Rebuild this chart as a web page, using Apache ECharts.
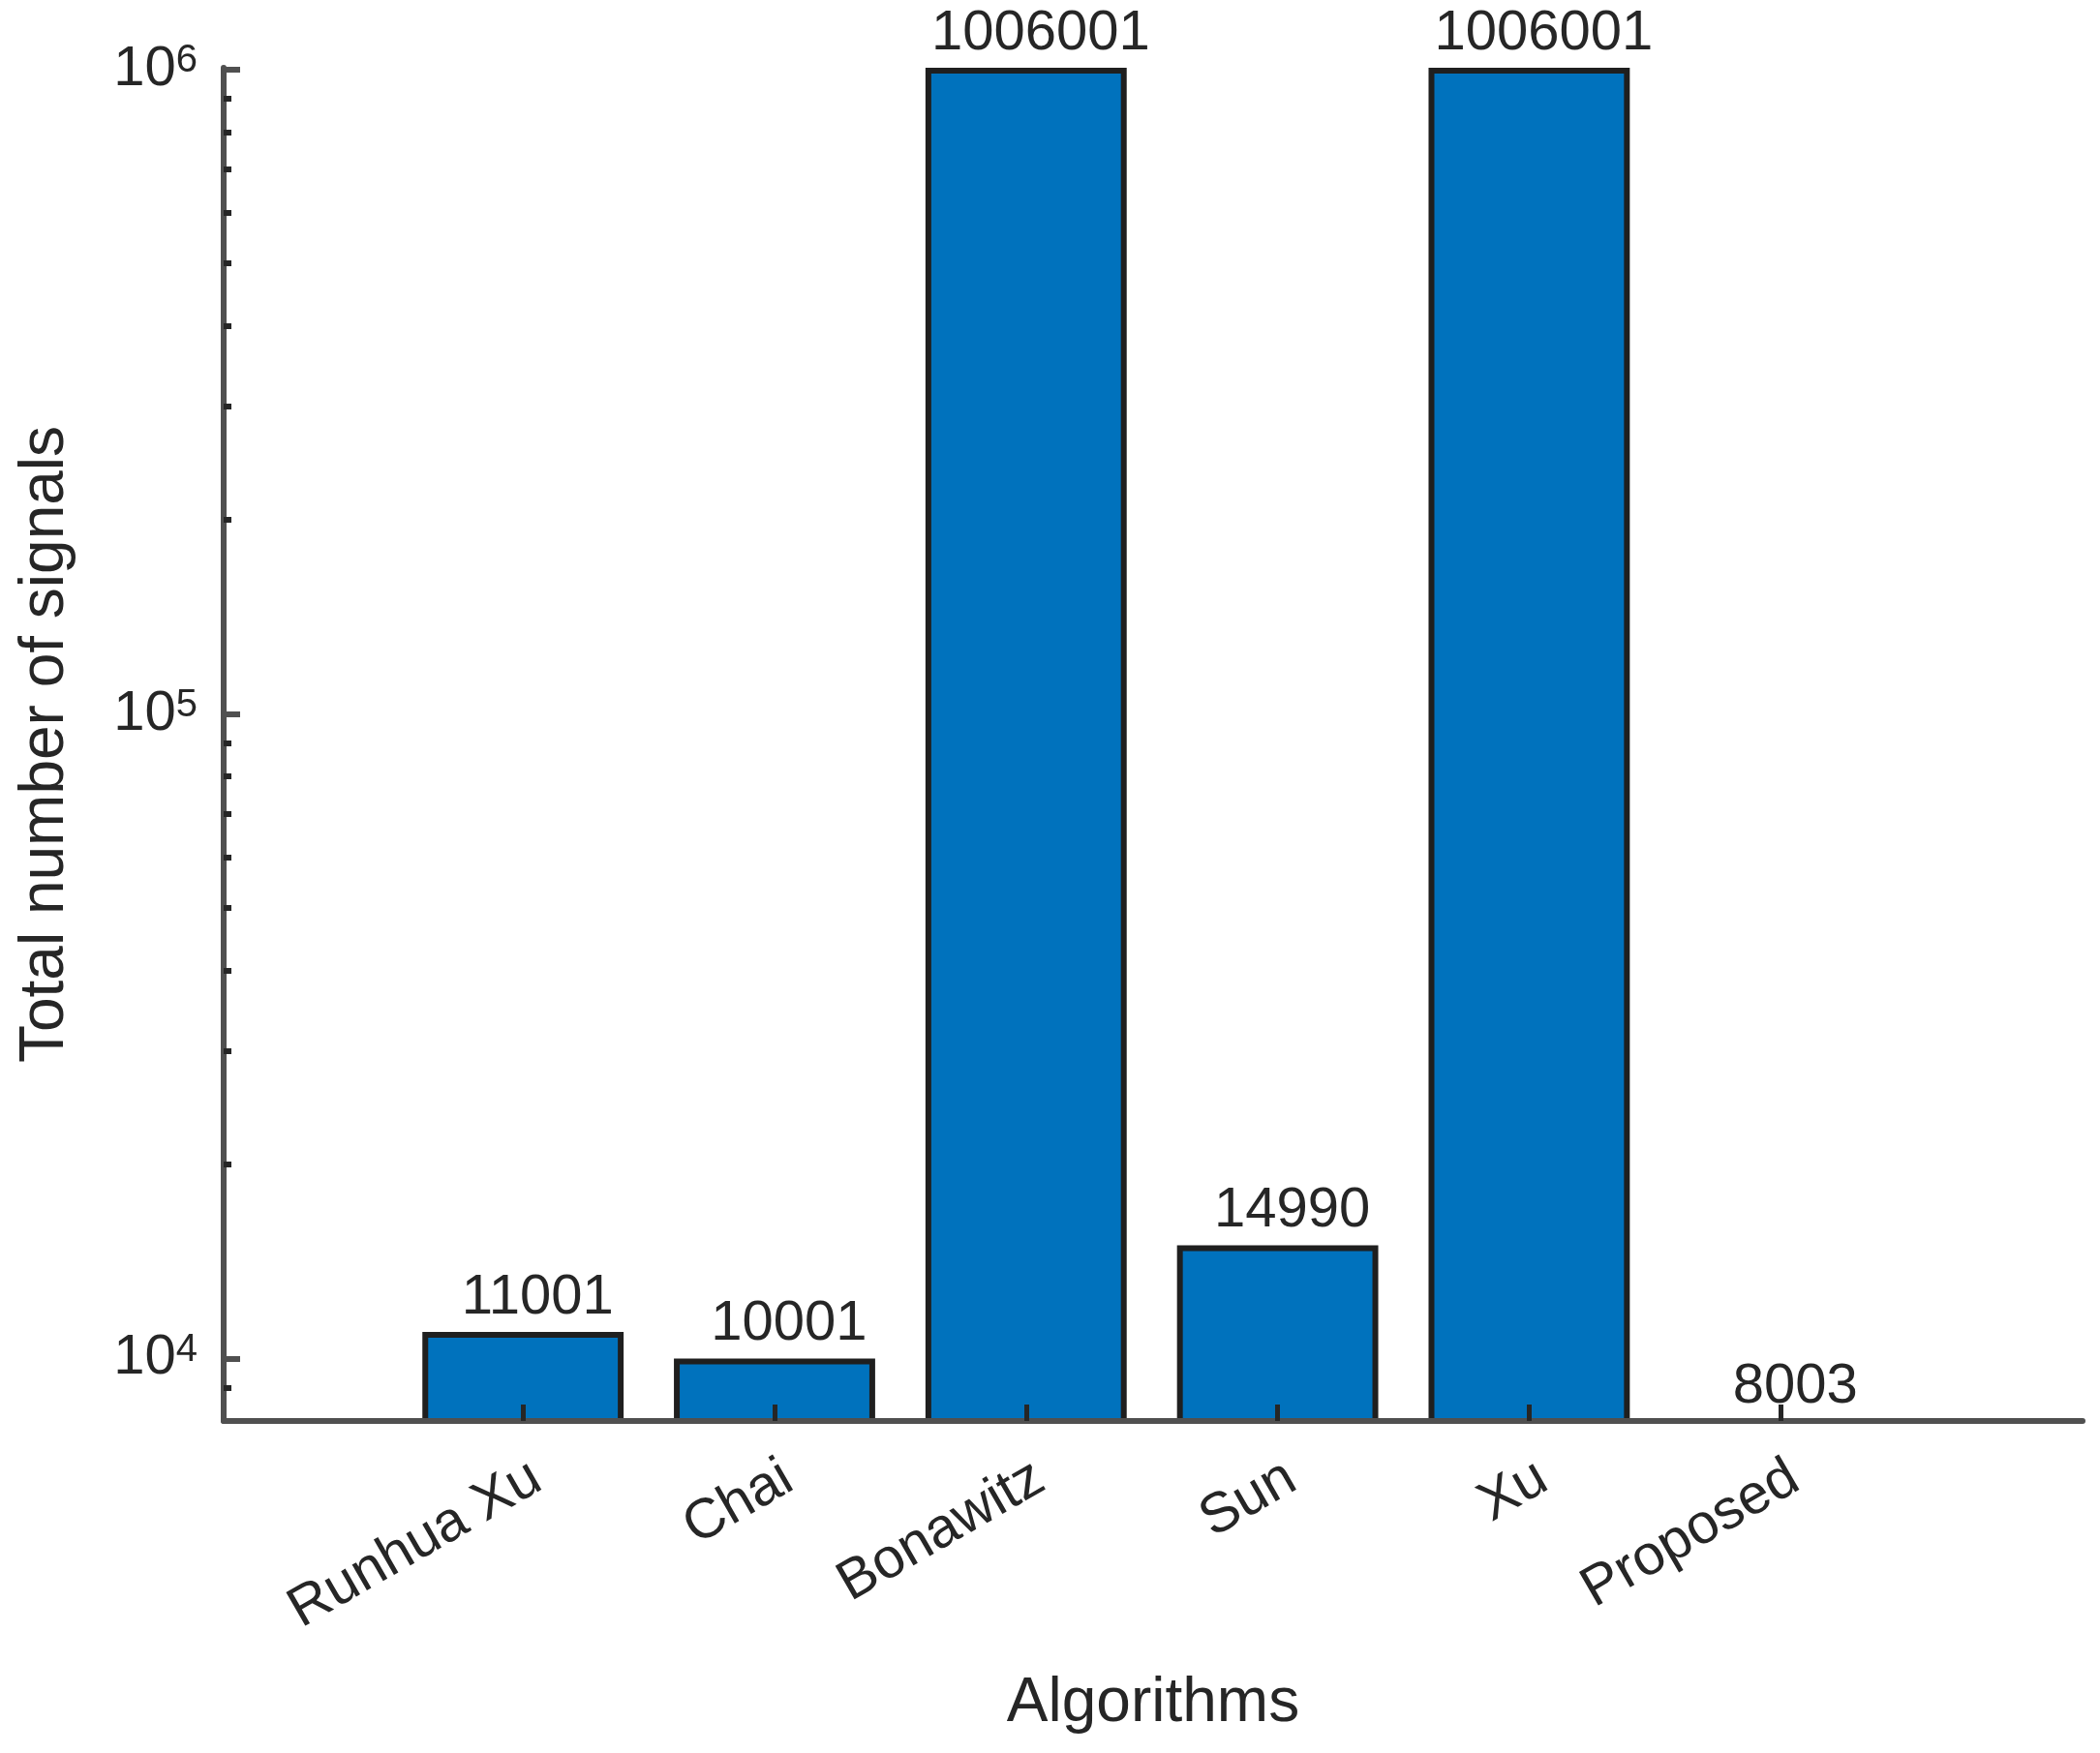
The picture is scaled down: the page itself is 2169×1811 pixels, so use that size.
<!DOCTYPE html>
<html>
<head>
<meta charset="utf-8">
<script src="https://cdn.jsdelivr.net/npm/echarts@6/dist/echarts.min.js"></script>
<style>
  html, body { margin: 0; padding: 0; background: #ffffff; }
  #chart { width: 2169px; height: 1811px; }
</style>
</head>
<body>
<div id="chart"></div>
<script>
// ---- data ----
const categories = ['Runhua Xu', 'Chai', 'Bonawitz', 'Sun', 'Xu', 'Proposed'];
const signals = [11001, 10001, 1006001, 14990, 1006001, 8003];
const yMajorTicks = [10000, 100000, 1000000];
const yMinorTicks = [9000, 20000, 30000, 40000, 50000, 60000, 70000, 80000, 90000,
                     200000, 300000, 400000, 500000, 600000, 700000, 800000, 900000];
const yMin = 8000;
const yMax = 1006001;
const xMin = -0.19;
const xMax = 7.2;

// ---- styling ----
const FONT = "'Liberation Sans', Arial, Helvetica, sans-serif";
const AXIS_COLOR = '#505050';
const TEXT_COLOR = '#262626';
const catPos = categories.map((c, i) => i + 1);
const points = signals.map((v, i) => [catPos[i], v]);

const chart = echarts.init(document.getElementById('chart'), null, { renderer: 'canvas' });

const option = {
  backgroundColor: '#ffffff',
  animation: false,
  grid: {
    left: 231, right: 18, top: 70, bottom: 343,
    containLabel: false,
    outerBoundsMode: 'none'
  },
  xAxis: {
    type: 'value',
    min: xMin,
    max: xMax,
    z: 10,
    axisLine: { show: true, onZero: false, lineStyle: { color: AXIS_COLOR, width: 6 } },
    splitLine: { show: false },
    axisTick: {
      show: true, inside: true, length: 17,
      customValues: catPos,
      lineStyle: { color: TEXT_COLOR, width: 5 }
    },
    axisLabel: {
      show: true,
      customValues: catPos,
      rotate: 30,
      align: 'right',
      verticalAlign: 'top',
      margin: 30,
      fontSize: 58,
      fontFamily: FONT,
      color: TEXT_COLOR,
      formatter: v => categories[Math.round(v) - 1] || ''
    },
    name: 'Algorithms',
    nameLocation: 'middle',
    nameGap: 260,
    nameTextStyle: { fontSize: 64, fontFamily: FONT, color: TEXT_COLOR }
  },
  yAxis: [
    {
      type: 'log',
      logBase: 10,
      min: yMin,
      max: yMax,
      z: 10,
      axisLine: { show: true, onZero: false, lineStyle: { color: AXIS_COLOR, width: 6 } },
      splitLine: { show: false },
      minorTick: { show: false },
      axisTick: {
        show: true, inside: true, length: 17,
        customValues: yMajorTicks,
        lineStyle: { color: AXIS_COLOR, width: 6 }
      },
      axisLabel: {
        show: true,
        customValues: yMajorTicks,
        margin: 27,
        fontFamily: FONT,
        color: TEXT_COLOR,
        formatter: v => '{b|10}{sup|' + Math.round(Math.log10(v)) + '}',
        rich: {
          b: { fontSize: 58, fontFamily: FONT, color: TEXT_COLOR },
          sup: { fontSize: 40, fontFamily: FONT, color: TEXT_COLOR, verticalAlign: 'top', lineHeight: 26 }
        }
      },
      name: 'Total number of signals',
      nameLocation: 'middle',
      nameGap: 152,
      nameTextStyle: { fontSize: 64, fontFamily: FONT, color: TEXT_COLOR }
    },
    {
      type: 'log',
      logBase: 10,
      min: yMin,
      max: yMax,
      position: 'left',
      z: 10,
      axisLine: { show: false, onZero: false },
      splitLine: { show: false },
      axisLabel: { show: false },
      axisTick: {
        show: true, inside: true, length: 8,
        customValues: yMinorTicks,
        lineStyle: { color: TEXT_COLOR, width: 6 }
      }
    }
  ],
  series: [
    {
      type: 'bar',
      yAxisIndex: 0,
      barWidth: '80%',
      clip: true,
      data: points,
      itemStyle: {
        color: '#0072BD',
        borderColor: '#1f1f1f',
        borderWidth: 6
      },
      label: { show: false }
    },
    {
      type: 'scatter',
      yAxisIndex: 0,
      silent: true,
      clip: false,
      symbol: 'circle',
      symbolSize: 2,
      itemStyle: { color: 'rgba(255,255,255,0)', borderWidth: 0 },
      data: points,
      z: 12,
      label: {
        show: true,
        position: 'top',
        distance: 5,
        offset: [15, 0],
        fontSize: 58,
        fontFamily: FONT,
        color: TEXT_COLOR,
        opacity: 1,
        formatter: p => String(p.value[1])
      }
    }
  ]
};

chart.setOption(option);
</script>
</body>
</html>
